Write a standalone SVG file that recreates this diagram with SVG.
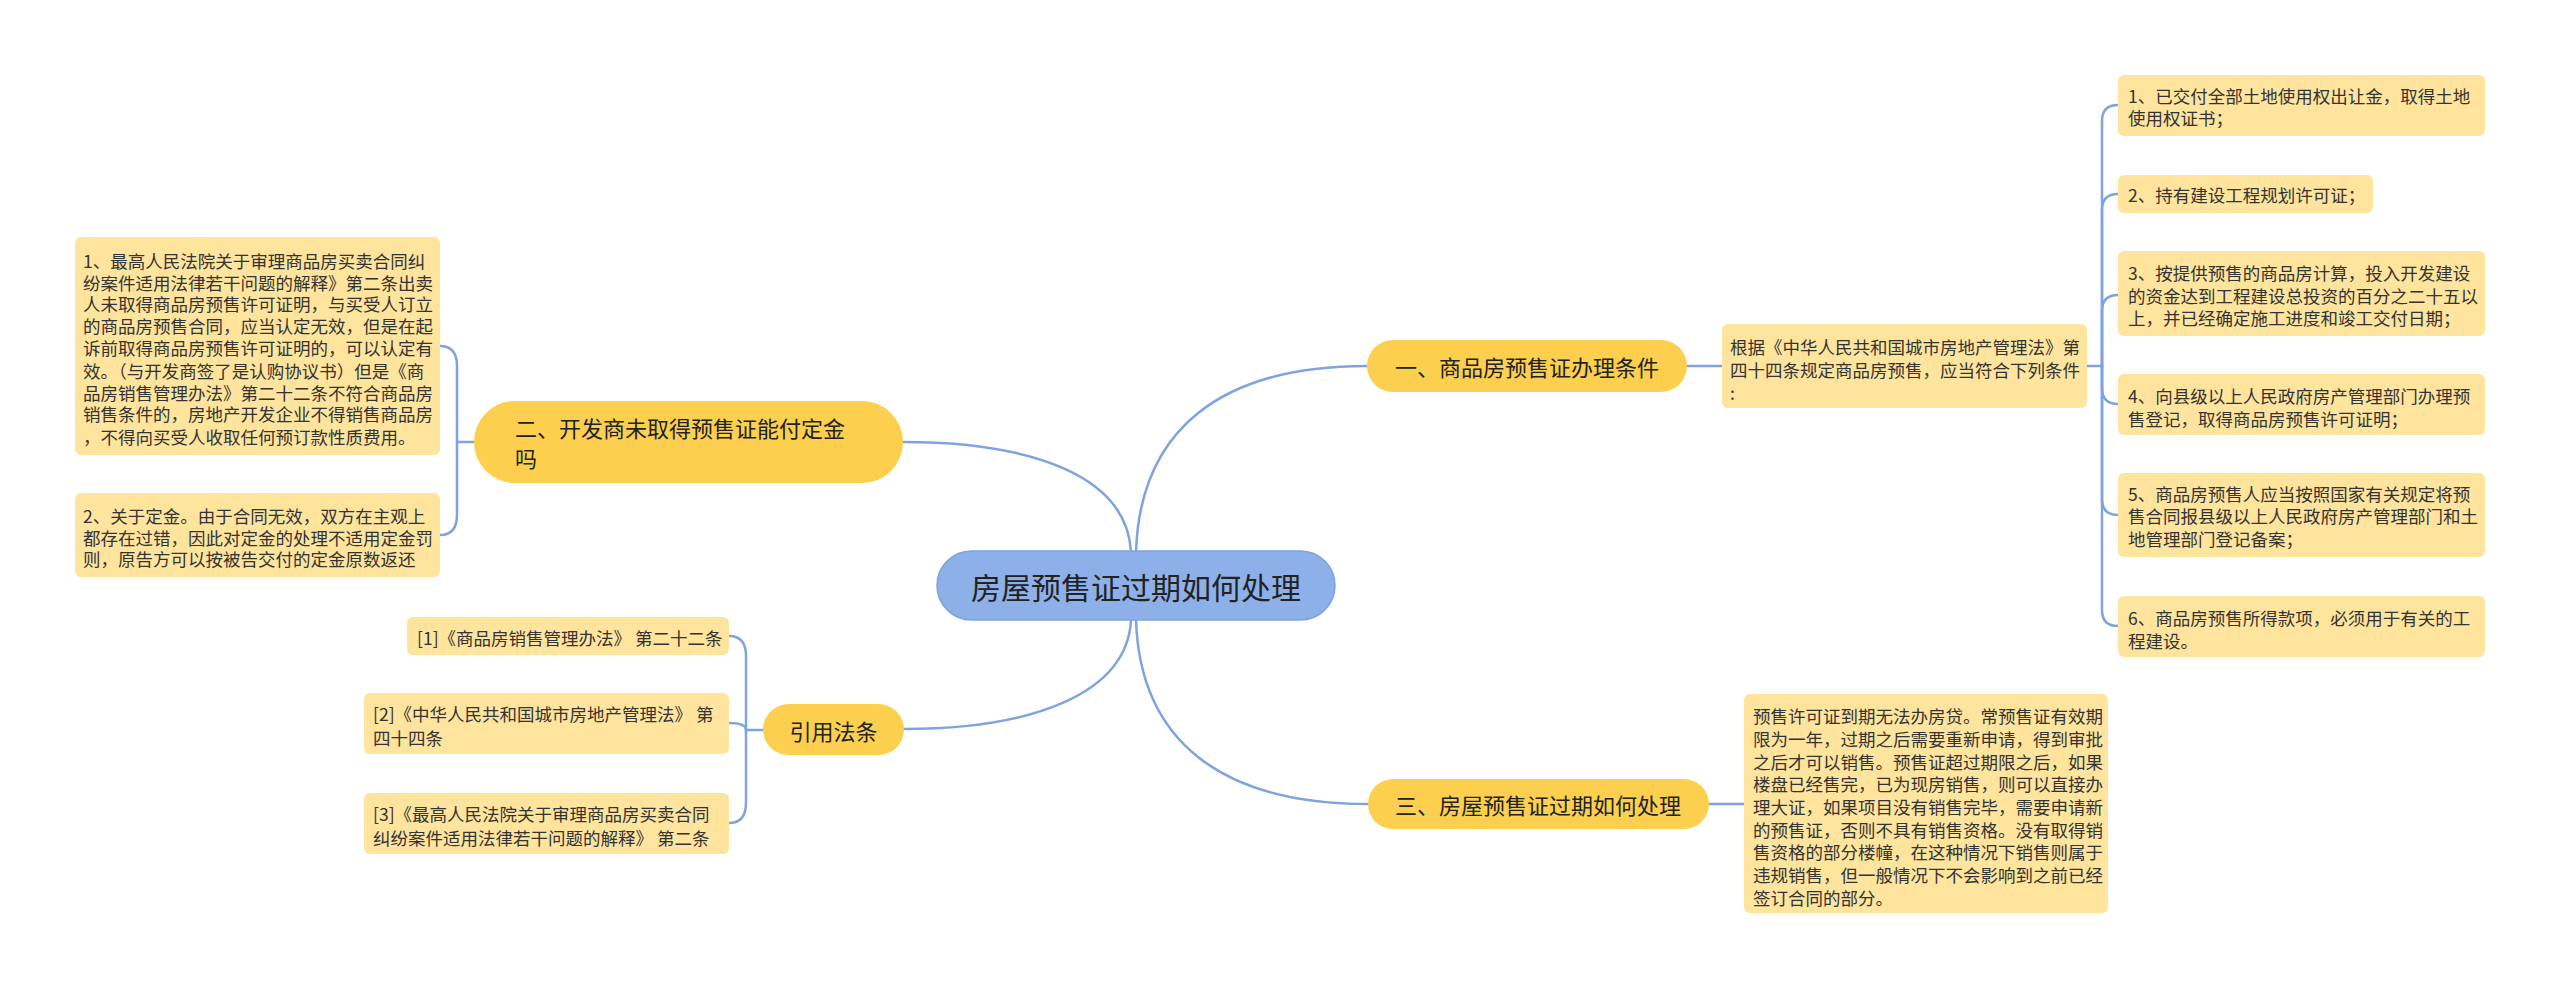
<svg xmlns="http://www.w3.org/2000/svg" width="2560" height="989" viewBox="0 0 2560 989">
<style>
text{font-family:"Microsoft YaHei","Noto Sans CJK SC","Noto Sans",sans-serif;fill:#333;dominant-baseline:central}
.leaf rect{fill:#fee49d}
.leaf text{font-size:17.5px}
.main rect{fill:#fcd04e}
.main text{font-size:22px;fill:#222}
.root rect{fill:#8eb0e9;stroke:#7ea2de;stroke-width:1.5}
.root text{font-size:30px;fill:#222}
#connectors path{fill:none;stroke:#7fa3de;stroke-width:2.5;stroke-linecap:round}
</style>
<rect width="2560" height="989" fill="#fff"/>
<g id="connectors">
<path d="M1136 552 C1140 430 1220 366 1367 366"/>
<path d="M1131 552 C1127 475 1030 442 903 442"/>
<path d="M1131 620 C1127 695 1030 729 904 729"/>
<path d="M1136 620 C1140 740 1220 804 1368 804"/>
<path d="M1687 366 H1722"/>
<path d="M1709 804 H1744"/>
<path d="M2087 366 H2102 V121 Q2102 105 2118 105"/>
<path d="M2102 366 V210 Q2102 194 2118 194"/>
<path d="M2102 366 V311 Q2102 295 2118 295"/>
<path d="M2102 366 V388 Q2102 404 2118 404"/>
<path d="M2102 366 V499 Q2102 515 2118 515"/>
<path d="M2102 366 V610 Q2102 626 2118 626"/>
<path d="M474 442 H457 V366 Q457 346 440 346"/>
<path d="M457 442 V515 Q457 535 440 535"/>
<path d="M763 730 H746 V656 Q746 636 729 636"/>
<path d="M746 730 Q746 723 729 723"/>
<path d="M746 730 V803 Q746 823 729 823"/>
</g>
<g id="root" class="root">
<rect x="937" y="551" width="398" height="69" rx="34.5"/>
<text x="1136" y="586" text-anchor="middle">房屋预售证过期如何处理</text>
</g>
<g id="n1" class="main">
<rect x="1367" y="340" width="320" height="52" rx="26"/>
<text x="1527" y="366" text-anchor="middle">一、商品房预售证办理条件</text>
</g>
<g id="n2" class="main">
<rect x="474" y="401" width="429" height="82" rx="41"/>
<text x="515" y="427">二、开发商未取得预售证能付定金</text>
<text x="515" y="457">吗</text>
</g>
<g id="n3" class="main">
<rect x="1368" y="779" width="341" height="50" rx="25"/>
<text x="1538" y="804" text-anchor="middle">三、房屋预售证过期如何处理</text>
</g>
<g id="n4" class="main">
<rect x="763" y="704" width="141" height="51" rx="25.5"/>
<text x="833.5" y="730" text-anchor="middle">引用法条</text>
</g>
<g id="n1a" class="leaf">
<rect x="1722" y="324" width="365" height="84" rx="6"/>
<text x="1730" y="346">根据《中华人民共和国城市房地产管理法》第</text>
<text x="1730" y="369">四十四条规定商品房预售，应当符合下列条件</text>
<text x="1730" y="392">:</text>
</g>
<g id="r1" class="leaf">
<rect x="2118" y="75" width="367" height="61" rx="6"/>
<text x="2128" y="95">1、已交付全部土地使用权出让金，取得土地</text>
<text x="2128" y="117">使用权证书；</text>
</g>
<g id="r2" class="leaf">
<rect x="2118" y="175" width="255" height="38" rx="6"/>
<text x="2128" y="194">2、持有建设工程规划许可证；</text>
</g>
<g id="r3" class="leaf">
<rect x="2118" y="251" width="367" height="85" rx="6"/>
<text x="2128" y="272">3、按提供预售的商品房计算，投入开发建设</text>
<text x="2128" y="295">的资金达到工程建设总投资的百分之二十五以</text>
<text x="2128" y="317">上，并已经确定施工进度和竣工交付日期；</text>
</g>
<g id="r4" class="leaf">
<rect x="2118" y="374" width="367" height="61" rx="6"/>
<text x="2128" y="395">4、向县级以上人民政府房产管理部门办理预</text>
<text x="2128" y="418">售登记，取得商品房预售许可证明；</text>
</g>
<g id="r5" class="leaf">
<rect x="2118" y="473" width="367" height="84" rx="6"/>
<text x="2128" y="493">5、商品房预售人应当按照国家有关规定将预</text>
<text x="2128" y="515">售合同报县级以上人民政府房产管理部门和土</text>
<text x="2128" y="538">地管理部门登记备案；</text>
</g>
<g id="r6" class="leaf">
<rect x="2118" y="596" width="367" height="61" rx="6"/>
<text x="2128" y="617">6、商品房预售所得款项，必须用于有关的工</text>
<text x="2128" y="640">程建设。</text>
</g>
<g id="n3a" class="leaf">
<rect x="1744" y="694" width="364" height="219" rx="6"/>
<text x="1753" y="715">预售许可证到期无法办房贷。常预售证有效期</text>
<text x="1753" y="738">限为一年，过期之后需要重新申请，得到审批</text>
<text x="1753" y="761">之后才可以销售。预售证超过期限之后，如果</text>
<text x="1753" y="783">楼盘已经售完，已为现房销售，则可以直接办</text>
<text x="1753" y="806">理大证，如果项目没有销售完毕，需要申请新</text>
<text x="1753" y="829">的预售证，否则不具有销售资格。没有取得销</text>
<text x="1753" y="851">售资格的部分楼幢，在这种情况下销售则属于</text>
<text x="1753" y="874">违规销售，但一般情况下不会影响到之前已经</text>
<text x="1753" y="897">签订合同的部分。</text>
</g>
<g id="l1" class="leaf">
<rect x="75" y="237" width="365" height="218" rx="6"/>
<text x="83" y="260">1、最高人民法院关于审理商品房买卖合同纠</text>
<text x="83" y="282">纷案件适用法律若干问题的解释》第二条出卖</text>
<text x="83" y="303">人未取得商品房预售许可证明，与买受人订立</text>
<text x="83" y="325">的商品房预售合同，应当认定无效，但是在起</text>
<text x="83" y="347">诉前取得商品房预售许可证明的，可以认定有</text>
<text x="83" y="370">效。（与开发商签了是认购协议书）但是《商</text>
<text x="83" y="392">品房销售管理办法》第二十二条不符合商品房</text>
<text x="83" y="413">销售条件的，房地产开发企业不得销售商品房</text>
<text x="83" y="436">，不得向买受人收取任何预订款性质费用。</text>
</g>
<g id="l2" class="leaf">
<rect x="75" y="493" width="365" height="84" rx="6"/>
<text x="83" y="515">2、关于定金。由于合同无效，双方在主观上</text>
<text x="83" y="537">都存在过错，因此对定金的处理不适用定金罚</text>
<text x="83" y="558">则，原告方可以按被告交付的定金原数返还</text>
</g>
<g id="c1" class="leaf">
<rect x="407" y="617" width="322" height="38" rx="6"/>
<text x="417" y="637">[1]《商品房销售管理办法》 第二十二条</text>
</g>
<g id="c2" class="leaf">
<rect x="364" y="693" width="365" height="61" rx="6"/>
<text x="373" y="713">[2]《中华人民共和国城市房地产管理法》 第</text>
<text x="373" y="737">四十四条</text>
</g>
<g id="c3" class="leaf">
<rect x="364" y="793" width="365" height="61" rx="6"/>
<text x="373" y="813">[3]《最高人民法院关于审理商品房买卖合同</text>
<text x="373" y="837">纠纷案件适用法律若干问题的解释》 第二条</text>
</g>
</svg>
